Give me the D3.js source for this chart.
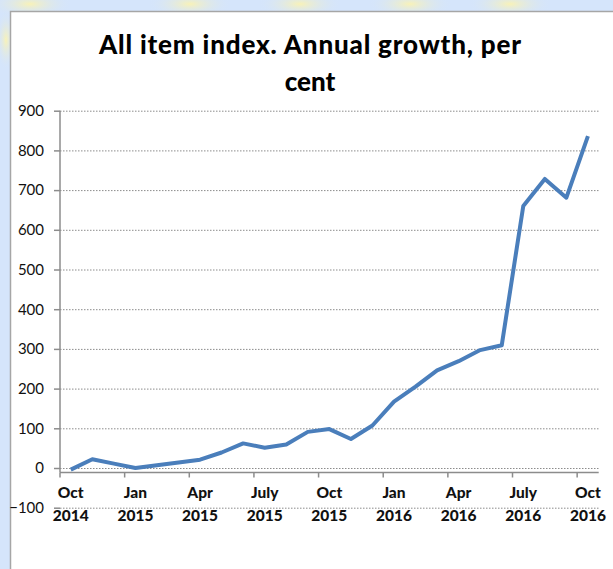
<!DOCTYPE html>
<html>
<head>
<meta charset="utf-8">
<script src="https://cdn.jsdelivr.net/npm/d3@7"></script>
<style>
  body { margin: 0; padding: 0; overflow: hidden; }
  svg { display: block; }
</style>
</head>
<body>
<script>
// monthly values, Oct 2014 .. Oct 2016
var months = ["Oct 2014","Nov 2014","Dec 2014","Jan 2015","Feb 2015","Mar 2015","Apr 2015","May 2015","Jun 2015",
  "July 2015","Aug 2015","Sep 2015","Oct 2015","Nov 2015","Dec 2015","Jan 2016","Feb 2016","Mar 2016",
  "Apr 2016","May 2016","Jun 2016","July 2016","Aug 2016","Sep 2016","Oct 2016"]
var growth = [-4, 22, 11, 0, 7, 14, 21, 39, 62, 51, 59, 91, 98, 73, 107, 167, 205, 246, 269, 297, 309, 660, 728, 681, 836]
var yTicks = [-100, 0, 100, 200, 300, 400, 500, 600, 700, 800, 900]
var titleLines = ["All item index. Annual growth, per", "cent"]

var W = 613, H = 569
var svg = d3.select("body").append("svg").attr("width", W).attr("height", H)

// slide background
var defs = svg.append("defs")
var blob = defs.append("radialGradient").attr("id", "blob")
blob.append("stop").attr("offset", "0%").attr("stop-color", "#f8f2b8")
blob.append("stop").attr("offset", "100%").attr("stop-color", "#d5e5fb").attr("stop-opacity", 0)
svg.append("rect").attr("width", W).attr("height", H).attr("fill", "#d5e5fb")
var blobsX = [30, 190, 300, 410, 510]
svg.selectAll("ellipse.blob").data(blobsX).join("ellipse")
  .attr("class", "blob")
  .attr("cx", d => d).attr("cy", 4)
  .attr("rx", 42).attr("ry", 14)
  .attr("fill", "url(#blob)")
svg.append("ellipse").attr("cx", 6).attr("cy", 40).attr("rx", 10).attr("ry", 30).attr("fill", "url(#blob)")

// chart area
svg.append("rect").attr("x", 10.5).attr("y", 11.5).attr("width", W).attr("height", H)
  .attr("fill", "#ffffff").attr("stroke", "#a6a6a6").attr("stroke-width", 1.5)

// title
svg.append("g").selectAll("text").data(titleLines).join("text")
  .attr("x", 310).attr("y", (d, i) => 54 + i * 37)
  .attr("text-anchor", "middle")
  .attr("textLength", (d, i) => i == 0 ? 422 : null)
  .attr("lengthAdjust", "spacing")
  .style("font-family", "Lato, 'Open Sans', sans-serif")
  .style("font-weight", "900")
  .style("font-size", "26px")
  .attr("fill", "#000")
  .text(d => d)

var left = 60, right = 598.7
var x = d3.scaleBand().domain(months).range([left, right])
var y = d3.scaleLinear().domain([-100, 900]).range([507.7, 110.7])
var axisY = y(0) + 4.5

// gridlines
svg.append("g").selectAll("line").data(yTicks).join("line")
  .attr("x1", left).attr("x2", right)
  .attr("y1", d => y(d) + 0.5).attr("y2", d => y(d) + 0.5)
  .attr("stroke", "#8c8c8c").attr("stroke-width", 1)
  .attr("stroke-dasharray", "1.5,1.5")

// y axis
var yAxis = svg.append("g").attr("transform", "translate(" + left + ",0)")
  .call(d3.axisLeft(y).tickValues(yTicks).tickSize(6).tickPadding(10).tickFormat(d3.format("d")))
yAxis.select(".domain").remove()
yAxis.selectAll(".tick line").attr("stroke", "#8c8c8c").attr("stroke-width", 1.5)
yAxis.selectAll("text")
  .style("font-family", "Lato, 'Open Sans', sans-serif")
  .style("font-size", "15px").attr("fill", "#111")
yAxis.append("line").attr("x1", 0).attr("x2", 0).attr("y1", y(900)).attr("y2", axisY)
  .attr("stroke", "#8c8c8c").attr("stroke-width", 1.5)

// x axis: ticks at category boundaries every 3 months, labels at centres
var labelIdx = d3.range(0, months.length, 3)
var xg = svg.append("g")
xg.append("line").attr("x1", left).attr("x2", right).attr("y1", axisY).attr("y2", axisY)
  .attr("stroke", "#8c8c8c").attr("stroke-width", 1.5)
xg.selectAll("line.tk").data(labelIdx).join("line").attr("class", "tk")
  .attr("x1", i => x(months[i])).attr("x2", i => x(months[i]))
  .attr("y1", axisY).attr("y2", axisY + 5)
  .attr("stroke", "#8c8c8c").attr("stroke-width", 1.5)
var lbl = xg.selectAll("text").data(labelIdx).join("text")
  .attr("text-anchor", "middle")
  .style("font-family", "Lato, 'Open Sans', sans-serif")
  .style("font-weight", "900")
  .style("font-size", "15.5px")
  .attr("fill", "#111")
lbl.append("tspan").attr("x", i => x(months[i]) + x.bandwidth() / 2).attr("y", 498)
  .text(i => months[i].split(" ")[0])
lbl.append("tspan").attr("x", i => x(months[i]) + x.bandwidth() / 2).attr("y", 521)
  .text(i => months[i].split(" ")[1])

// series
var line = d3.line()
  .x((d, i) => x(months[i]) + x.bandwidth() / 2)
  .y(d => y(d))
svg.append("path").datum(growth)
  .attr("d", line)
  .attr("fill", "none")
  .attr("stroke", "#4a7ebb")
  .attr("stroke-width", 4)
  .attr("stroke-linejoin", "round")
</script>
</body>
</html>
